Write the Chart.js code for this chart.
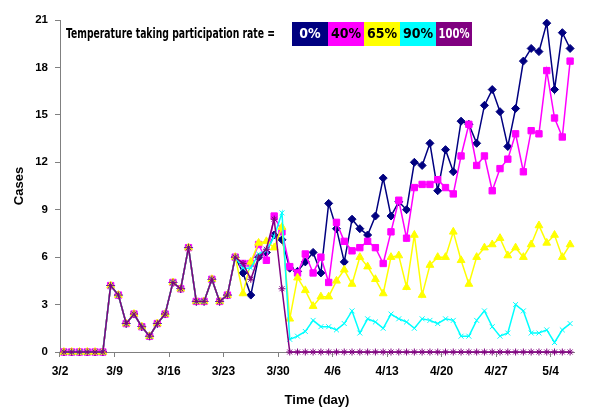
<!DOCTYPE html>
<html>
<head>
<meta charset="utf-8">
<script src="https://cdn.jsdelivr.net/npm/chart.js@4.4.0/dist/chart.umd.min.js"></script>
<style>
  html, body { margin: 0; padding: 0; background: #fff; }
  #chart { display: block; }
</style>
</head>
<body>
<canvas id="chart" width="600" height="418"></canvas>
<script>
// dates, one per day from 3/2 to 5/6
const days = [
  '3/2','3/3','3/4','3/5','3/6','3/7','3/8','3/9','3/10','3/11','3/12','3/13','3/14','3/15','3/16',
  '3/17','3/18','3/19','3/20','3/21','3/22','3/23','3/24','3/25','3/26','3/27','3/28','3/29','3/30','3/31',
  '4/1','4/2','4/3','4/4','4/5','4/6','4/7','4/8','4/9','4/10','4/11','4/12','4/13','4/14','4/15',
  '4/16','4/17','4/18','4/19','4/20','4/21','4/22','4/23','4/24','4/25','4/26','4/27','4/28','4/29','4/30',
  '5/1','5/2','5/3','5/4','5/5','5/6'
];

const rates = ['0%', '40%', '65%', '90%', '100%'];

const rate0 = [0,0,0,0,0,0,4.2,3.6,1.8,2.4,1.6,1.0,1.8,2.4,4.4,4.0,6.6,3.2,3.2,4.6,3.2,3.6,6.0,
  5.0,3.6,6.0,6.3,7.4,7.1,5.3,5.1,5.7,6.3,5.0,9.4,7.8,5.7,8.4,7.8,7.4,8.6,11.0,8.6,9.5,9.0,
  12.0,11.8,13.2,10.2,12.8,11.4,14.6,14.4,13.2,15.6,16.6,15.2,13.0,15.4,18.4,19.2,19.0,20.8,16.6,20.2,19.2];
const rate40 = [0,0,0,0,0,0,4.2,3.6,1.8,2.4,1.6,1.0,1.8,2.4,4.4,4.0,6.6,3.2,3.2,4.6,3.2,3.6,6.0,
  5.6,5.6,6.8,5.8,8.6,7.6,5.4,5.0,6.2,5.0,6.0,4.4,8.2,7.0,6.4,6.6,7.0,6.6,5.6,7.6,9.6,7.2,
  10.4,10.6,10.6,10.9,10.4,10.0,12.4,14.4,11.8,12.4,10.2,11.6,12.2,13.8,11.4,14.0,13.8,17.8,14.8,13.6,18.4];
const rate65 = [0,0,0,0,0,0,4.2,3.6,1.8,2.4,1.6,1.0,1.8,2.4,4.4,4.0,6.6,3.2,3.2,4.6,3.2,3.6,6.0,
  3.7,5.7,6.9,7.0,6.6,7.9,2.1,4.7,3.9,2.9,3.5,3.5,4.5,5.2,4.3,6.0,5.4,4.6,3.7,6.0,6.1,4.1,
  7.4,3.6,5.5,6.0,6.0,7.6,5.8,4.3,6.0,6.6,6.8,7.2,6.1,6.6,6.0,6.8,8.0,6.9,7.4,6.0,6.8];
const rate90 = [0,0,0,0,0,0,4.2,3.6,1.8,2.4,1.6,1.0,1.8,2.4,4.4,4.0,6.6,3.2,3.2,4.6,3.2,3.6,6.0,
  5.3,5.3,6.2,6.4,7.3,8.8,0.8,1.0,1.3,2.0,1.6,1.6,1.4,1.8,2.6,1.2,2.1,1.9,1.5,2.4,2.1,1.9,
  1.5,2.1,2.0,1.8,2.1,2.0,1.0,1.0,2.0,2.6,1.6,1.0,1.2,3.0,2.6,1.2,1.2,1.4,0.6,1.4,1.8];
const rate100 = [0,0,0,0,0,0,4.2,3.6,1.8,2.4,1.6,1.0,1.8,2.4,4.4,4.0,6.6,3.2,3.2,4.6,3.2,3.6,6.0,
  5.6,4.6,6.0,6.5,8.4,4.0,0,0,0,0,0,0,0,0,0,0,0,0,0,0,0,0,
  0,0,0,0,0,0,0,0,0,0,0,0,0,0,0,0,0,0,0,0,0];

const legendTitle = 'Temperature taking participation rate =';

const boldFont = "'Liberation Sans', Arial, sans-serif";
const narrowFont = "'Liberation Sans Narrow', 'Arial Narrow', 'DejaVu Sans Condensed', sans-serif";

const makeSet = function(label, data, color, style, radius, order) {
  return {
    label: label,
    data: data,
    borderColor: color,
    backgroundColor: color,
    pointBackgroundColor: color,
    pointBorderColor: color,
    pointStyle: style,
    pointRadius: radius,
    pointBorderWidth: 1,
    borderWidth: 1.5,
    tension: 0,
    clip: false,
    order: order
  };
};

// boxes with the rate written inside, drawn at the top of the plot
const rateBoxes = {
  id: 'rateBoxes',
  afterDraw(chart) {
    const ctx = chart.ctx;
    const textColors = ['#ffffff', '#000000', '#000000', '#000000', '#ffffff'];
    ctx.save();
    ctx.textBaseline = 'middle';
    ctx.font = 'bold 14px ' + narrowFont;
    ctx.fillStyle = '#000';
    let w = ctx.measureText(legendTitle).width;
    ctx.save();
    ctx.translate(66, 34);
    ctx.scale(209 / w, 1);
    ctx.textAlign = 'left';
    ctx.fillText(legendTitle, 0, 0);
    ctx.restore();

    let x = 292;
    chart.data.datasets.forEach((ds, i) => {
      ctx.fillStyle = ds.borderColor;
      ctx.fillRect(x, 22, 36, 24);
      ctx.fillStyle = textColors[i];
      ctx.textAlign = 'center';
      const tw = ctx.measureText(ds.label).width;
      const s = Math.min(1, 31 / tw);
      ctx.save();
      ctx.translate(x + 18, 34);
      ctx.scale(s, 1);
      ctx.fillText(ds.label, 0, 0);
      ctx.restore();
      x += 36;
    });
    ctx.restore();
  }
};

const ctx = document.getElementById('chart').getContext('2d');
const chart = new Chart(ctx, {
  type: 'line',
  data: {
    labels: days,
    datasets: [
      makeSet(rates[0], rate0, '#000080', 'rectRot', 4, 4),
      makeSet(rates[1], rate40, '#ff00ff', 'rect', 4.5, 3),
      makeSet(rates[2], rate65, '#ffff00', 'triangle', 4.5, 2),
      makeSet(rates[3], rate90, '#00ffff', 'crossRot', 3.5, 1),
      makeSet(rates[4], rate100, '#800080', 'star', 3.5, 0)
    ]
  },
  options: {
    responsive: false,
    animation: false,
    layout: { padding: { top: 20, right: 26, left: 0, bottom: 0 } },
    plugins: {
      legend: { display: false },
      tooltip: { enabled: false }
    },
    scales: {
      x: {
        type: 'category',
        offset: true,
        grid: {
          offset: true,
          drawOnChartArea: false,
          tickLength: 5,
          color: c => (c.index % 7 === 0 ? '#808080' : 'rgba(0,0,0,0)')
        },
        border: { color: '#808080', width: 1 },
        ticks: {
          autoSkip: false,
          maxRotation: 0,
          minRotation: 0,
          labelOffset: -3.9,
          padding: 7,
          color: '#000',
          font: { family: boldFont, size: 12, weight: 'bold' },
          callback: function(value, index) {
            return index % 7 === 0 ? this.getLabelForValue(value) : '';
          }
        },
        title: {
          display: true,
          text: 'Time (day)',
          color: '#000',
          font: { family: boldFont, size: 13, weight: 'bold' },
          padding: { top: 0, bottom: 10 }
        },
        afterFit: s => { s.height = 66; }
      },
      y: {
        min: 0,
        max: 21,
        grid: { drawOnChartArea: false, tickLength: 5, color: '#808080' },
        border: { color: '#808080', width: 1 },
        ticks: {
          stepSize: 3,
          padding: 7,
          color: '#000',
          font: { family: boldFont, size: 11.5, weight: 'bold' }
        },
        title: {
          display: true,
          text: 'Cases',
          color: '#000',
          font: { family: boldFont, size: 13, weight: 'bold' },
          padding: { top: 12, bottom: 0 }
        },
        afterFit: s => { s.width = 60; }
      }
    }
  },
  plugins: [rateBoxes]
});
</script>
</body>
</html>
